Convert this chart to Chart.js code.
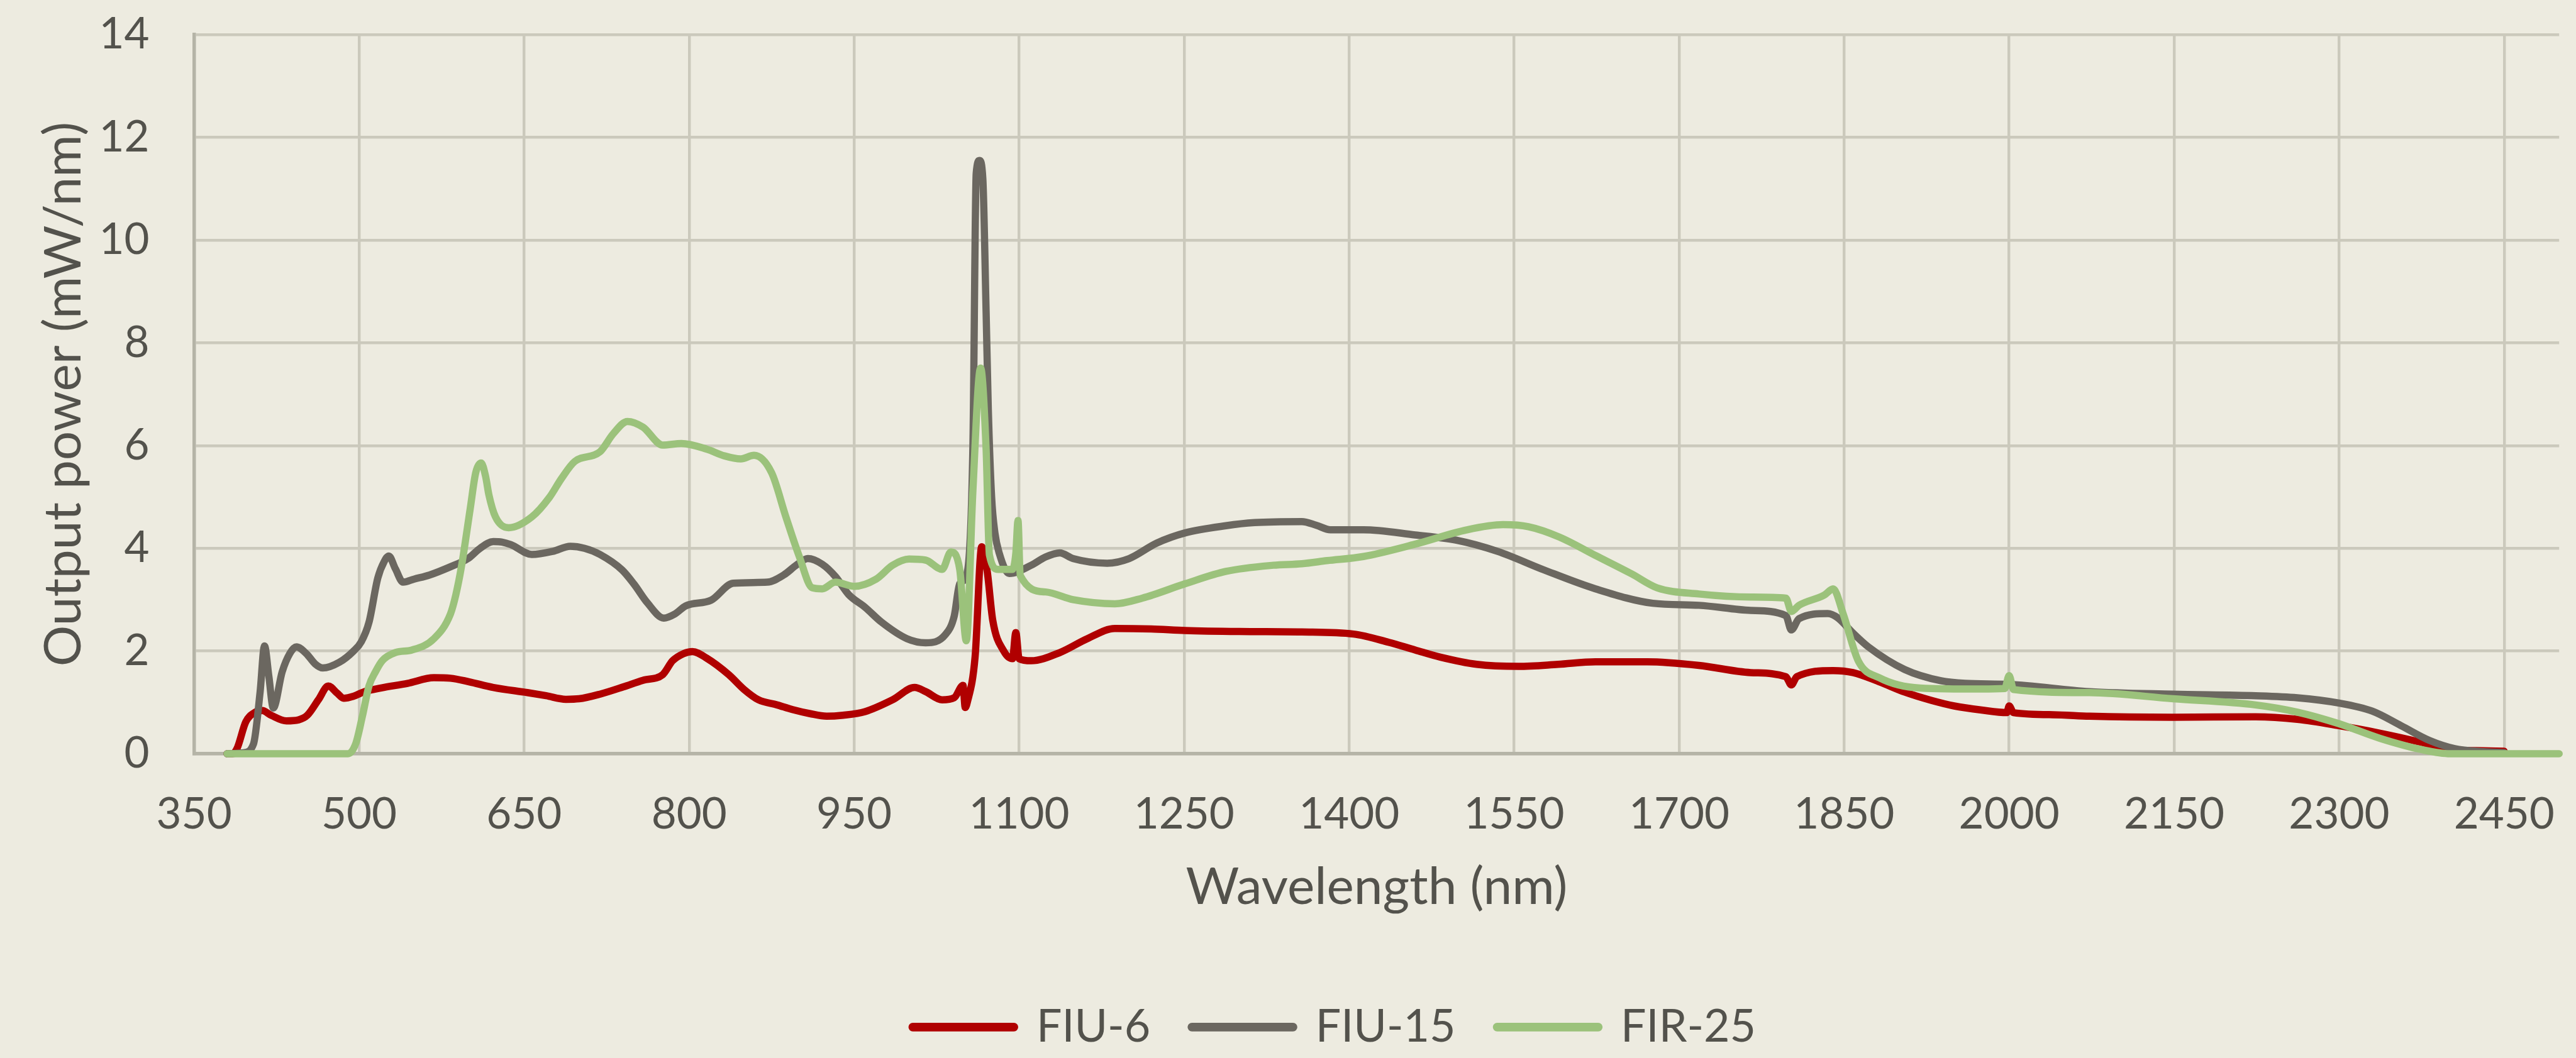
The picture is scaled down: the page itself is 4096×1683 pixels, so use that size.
<!DOCTYPE html>
<html>
<head>
<meta charset="utf-8">
<title>Output power</title>
<script src="https://cdn.jsdelivr.net/npm/chart.js@4/dist/chart.umd.min.js"></script>
<style>
html, body { margin: 0; padding: 0; background: #edebe0; }
canvas { display: block; }
</style>
</head>
<body>
<canvas id="spectrum" width="4096" height="1683"></canvas>
<script>
// values (nm / mW per nm)
var fiu6Nm = [380,385,389,397,405,412,420,434,445,453,463,472,480,486,495,505,520,544,568,583,600,622,653,670,688,700,719,740,758,776,785,795,803,816,836,850,863,880,894,910,925,940,960,985,1005,1015,1030,1041,1049,1051,1053,1060,1066,1071,1076,1086,1094,1097,1100,1111,1137,1162,1187,1220,1251,1300,1357,1404,1436,1460,1483,1516,1554,1590,1624,1671,1718,1765,1797,1802,1807,1840,1858,1882,1905,1929,1950,1975,1998,2000,2004,2040,2073,2149,2224,2262,2299,2337,2375,2401,2425,2450];
var fiu6Mw = [0,0,0.1,0.62,0.8,0.84,0.75,0.64,0.66,0.75,1.05,1.32,1.18,1.08,1.12,1.21,1.28,1.37,1.48,1.47,1.4,1.29,1.19,1.13,1.06,1.07,1.16,1.3,1.43,1.54,1.81,1.95,1.99,1.86,1.54,1.25,1.05,0.95,0.86,0.78,0.73,0.75,0.82,1.05,1.29,1.21,1.05,1.09,1.33,0.9,1.01,1.89,4.03,3.55,2.6,2.0,1.85,2.36,1.85,1.81,1.97,2.24,2.44,2.43,2.4,2.38,2.37,2.33,2.17,2.02,1.88,1.74,1.7,1.74,1.79,1.79,1.72,1.58,1.5,1.34,1.5,1.62,1.58,1.4,1.2,1.04,0.93,0.85,0.8,0.93,0.8,0.76,0.73,0.71,0.72,0.67,0.55,0.4,0.22,0.08,0.06,0.05];

var fiu15Nm = [380,395,404,410,414,418,422,430,437,443,452,460,467,482,495,502,509,517,523,527,533,540,550,564,583,599,610,622,630,638,657,676,692,705,719,739,750,762,777,787,797,820,840,871,886,898,908,921,933,945,960,975,998,1015,1033,1041,1046,1053,1058,1061,1064,1067,1070,1072,1075,1078,1082,1091,1111,1124,1137,1149,1180,1200,1225,1251,1288,1314,1357,1370,1383,1413,1460,1497,1535,1577,1624,1676,1718,1765,1797,1802,1809,1835,1844,1858,1872,1905,1938,1960,2000,2073,2149,2224,2262,2299,2330,2356,2382,2405,2431,2450];
var fiu15Mw = [0,0.02,0.19,1.2,2.1,1.5,0.89,1.59,1.95,2.08,1.95,1.75,1.67,1.78,2.0,2.18,2.56,3.42,3.75,3.85,3.6,3.34,3.4,3.48,3.64,3.8,4.0,4.13,4.12,4.07,3.88,3.94,4.04,4.0,3.88,3.58,3.3,2.94,2.64,2.72,2.88,2.99,3.32,3.34,3.48,3.68,3.8,3.69,3.45,3.1,2.85,2.56,2.24,2.16,2.32,2.68,3.31,3.55,6.0,11.3,11.55,11.2,8.6,6.7,5.0,4.3,3.9,3.51,3.67,3.83,3.91,3.8,3.71,3.8,4.1,4.3,4.44,4.5,4.52,4.45,4.36,4.36,4.26,4.16,3.94,3.58,3.21,2.93,2.89,2.79,2.69,2.41,2.63,2.73,2.65,2.35,2.08,1.64,1.42,1.37,1.35,1.21,1.16,1.13,1.09,0.99,0.83,0.55,0.26,0.1,0.04,0.02];

var fir25Nm = [380,490,497,503,509,515,521,533,548,568,583,588,593,601,606,611,615,618,624,636,657,673,684,696,719,731,744,758,776,793,816,832,847,859,875,888,900,912,921,933,950,970,985,1000,1015,1030,1038,1046,1052,1058,1065,1070,1073,1081,1094,1097,1099,1101,1124,1149,1187,1212,1251,1288,1331,1357,1380,1413,1460,1507,1540,1563,1591,1624,1657,1680,1718,1765,1797,1802,1809,1832,1840,1849,1863,1882,1919,1975,1996,2000,2004,2073,2149,2224,2262,2299,2337,2375,2401,2500];
var fir25Mw = [0,0,0.2,0.73,1.32,1.6,1.81,1.97,2.02,2.24,2.72,3.1,3.64,4.77,5.47,5.66,5.4,5.04,4.61,4.4,4.61,4.99,5.36,5.69,5.88,6.23,6.47,6.36,6.01,6.04,5.93,5.8,5.74,5.81,5.47,4.61,3.85,3.23,3.21,3.34,3.26,3.4,3.67,3.79,3.77,3.59,3.93,3.59,2.2,5.13,7.51,5.93,3.87,3.59,3.59,3.9,4.54,3.47,3.15,3.0,2.92,3.03,3.31,3.55,3.67,3.7,3.76,3.84,4.08,4.36,4.46,4.42,4.22,3.86,3.5,3.23,3.11,3.05,3.03,2.77,2.89,3.09,3.21,2.73,1.8,1.48,1.28,1.26,1.27,1.52,1.25,1.19,1.07,0.95,0.81,0.59,0.3,0.08,0,0];

var seriesNames = ['FIU-6', 'FIU-15', 'FIR-25'];
var xTicks = [350,500,650,800,950,1100,1250,1400,1550,1700,1850,2000,2150,2300,2450];
var yTicks = [0,2,4,6,8,10,12,14];

// reference is 4150 wide, page is 4096
var S = 0.986;
var textColor = '#53524c';
var gridColor = '#cbc9bc';
var axisColor = '#b5b4a7';
var colors = ['#b00000', '#6b6760', '#9bc27b'];

var plotLeft = 313 * S;
var plotRight = 4127 * S;
var plotTop = 56 * S;
var plotBottom = 1216 * S;

var tickFs = 69;
var titleFs = 82;
var legendFs = 71.6;
var legendPad = 66;
var legendLineW = 14 * S;
var legendTop = 1657 * S - legendPad - legendFs / 2;
var legendBottom = legendTop + legendFs + legendPad + 10;

function pairs(nm, mw) {
	var out = [];
	for (var i = 0; i < nm.length; i++) {
		out.push({x: nm[i], y: mw[i]});
	}
	return out;
}

function makeDataset(i, nm, mw) {
	return {
		label: seriesNames[i],
		data: pairs(nm, mw),
		borderColor: colors[i],
		backgroundColor: colors[i],
		borderWidth: 11.5,
		pointRadius: 0,
		cubicInterpolationMode: 'monotone',
		borderJoinStyle: 'round',
		borderCapStyle: 'round',
		clip: false,
		order: 3 - i
	};
}

// plain numbers on the axes, no thousands separator
function plainTick(value) {
	return String(value);
}

// nudge the legend row to where it sits in the reference
var legendShift = {
	id: 'legendShift',
	afterLayout: function(chart) {
		var lg = chart.legend;
		if (!lg || !lg.lineWidths) return;
		var cx = (lg.left + legendPad + lg.right - lg.lineWidths[0]) / 2;
		var dx = (1465 * S + legendLineW / 2) - cx;
		lg.left += dx;
		lg.right += dx;
	}
};

function draw() {
	var ctx = document.getElementById('spectrum');
	new Chart(ctx, {
		type: 'line',
		data: {
			datasets: [
				makeDataset(0, fiu6Nm, fiu6Mw),
				makeDataset(1, fiu15Nm, fiu15Mw),
				makeDataset(2, fir25Nm, fir25Mw)
			]
		},
		plugins: [legendShift],
		options: {
			responsive: false,
			animation: false,
			devicePixelRatio: 1,
			events: [],
			layout: {
				padding: {top: plotTop, left: 0, right: 4096 - plotRight, bottom: 1683 - legendBottom}
			},
			scales: {
				x: {
					type: 'linear',
					min: 350,
					max: 2500,
					afterBuildTicks: function(scale) {
						scale.ticks = xTicks.map(function(v) { return {value: v}; });
					},
					afterFit: function(scale) {
						scale.height = legendTop - plotBottom;
						scale.paddingLeft = 0;
						scale.paddingRight = 0;
					},
					grid: {color: gridColor, lineWidth: 4.4, drawTicks: false},
					border: {color: axisColor, width: 5.5},
					ticks: {
						color: textColor,
						padding: 62,
						maxRotation: 0,
						autoSkip: false,
						callback: plainTick,
						font: {size: tickFs, lineHeight: 1}
					},
					title: {
						display: true,
						text: 'Wavelength (nm)',
						color: textColor,
						font: {size: titleFs, lineHeight: 1},
						padding: {top: 0, bottom: legendTop - titleFs / 2 - 1412}
					}
				},
				y: {
					min: 0,
					max: 14,
					afterBuildTicks: function(scale) {
						scale.ticks = yTicks.map(function(v) { return {value: v}; });
					},
					afterFit: function(scale) {
						scale.width = plotLeft;
						scale.paddingTop = 0;
						scale.paddingBottom = 0;
					},
					grid: {color: gridColor, lineWidth: 4.4, drawTicks: false},
					border: {color: axisColor, width: 5.5},
					ticks: {
						color: textColor,
						padding: 71,
						callback: plainTick,
						font: {size: tickFs, lineHeight: 1}
					},
					title: {
						display: true,
						text: 'Output power (mW/nm)',
						color: textColor,
						font: {size: titleFs, lineHeight: 1},
						padding: {top: 101.6 - titleFs / 2, bottom: 0}
					}
				}
			},
			plugins: {
				tooltip: {enabled: false},
				legend: {
					position: 'bottom',
					labels: {
						color: textColor,
						font: {size: legendFs},
						padding: legendPad,
						usePointStyle: true,
						pointStyleWidth: 177 * S - legendLineW,
						generateLabels: function(chart) {
							return chart.data.datasets.map(function(ds, i) {
								return {
									text: ds.label,
									fillStyle: ds.borderColor,
									strokeStyle: ds.borderColor,
									lineWidth: legendLineW,
									lineCap: 'round',
									pointStyle: 'line',
									fontColor: textColor,
									hidden: false,
									datasetIndex: i
								};
							});
						}
					}
				}
			}
		}
	});
}

Chart.defaults.font.family = 'Lato';
if (document.fonts && document.fonts.load) {
	document.fonts.load('70px Lato').then(draw, draw);
} else {
	draw();
}
</script>
</body>
</html>
